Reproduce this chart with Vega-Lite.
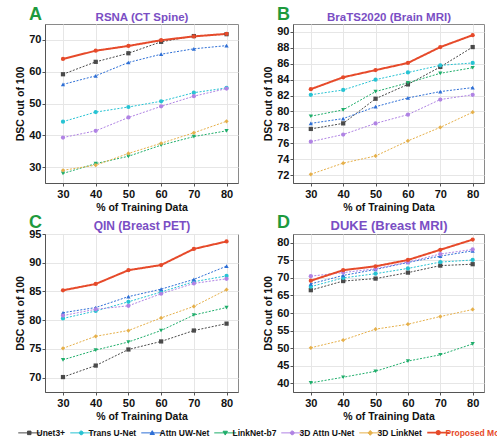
{
"$schema":"https://vega.github.io/schema/vega-lite/v6.json",
"padding":{"left":15,"top":5,"right":0,"bottom":0},
"background":"white",
"data":{"values":[
{"p":"A","m":"Unet3+","x":30,"y":59.2},{"p":"A","m":"Unet3+","x":40,"y":63.1},{"p":"A","m":"Unet3+","x":50,"y":65.8},{"p":"A","m":"Unet3+","x":60,"y":69.4},{"p":"A","m":"Unet3+","x":70,"y":71.2},{"p":"A","m":"Unet3+","x":80,"y":71.8},
{"p":"A","m":"Trans U-Net","x":30,"y":44.3},{"p":"A","m":"Trans U-Net","x":40,"y":47.3},{"p":"A","m":"Trans U-Net","x":50,"y":48.9},{"p":"A","m":"Trans U-Net","x":60,"y":50.7},{"p":"A","m":"Trans U-Net","x":70,"y":53.4},{"p":"A","m":"Trans U-Net","x":80,"y":54.9},
{"p":"A","m":"Attn UW-Net","x":30,"y":56},{"p":"A","m":"Attn UW-Net","x":40,"y":58.7},{"p":"A","m":"Attn UW-Net","x":50,"y":62.9},{"p":"A","m":"Attn UW-Net","x":60,"y":65.5},{"p":"A","m":"Attn UW-Net","x":70,"y":67.2},{"p":"A","m":"Attn UW-Net","x":80,"y":68.2},
{"p":"A","m":"LinkNet-b7","x":30,"y":28},{"p":"A","m":"LinkNet-b7","x":40,"y":31.1},{"p":"A","m":"LinkNet-b7","x":50,"y":33.4},{"p":"A","m":"LinkNet-b7","x":60,"y":36.9},{"p":"A","m":"LinkNet-b7","x":70,"y":39.6},{"p":"A","m":"LinkNet-b7","x":80,"y":41.4},
{"p":"A","m":"3D Attn U-Net","x":30,"y":39.3},{"p":"A","m":"3D Attn U-Net","x":40,"y":41.4},{"p":"A","m":"3D Attn U-Net","x":50,"y":45.6},{"p":"A","m":"3D Attn U-Net","x":60,"y":49.1},{"p":"A","m":"3D Attn U-Net","x":70,"y":52.3},{"p":"A","m":"3D Attn U-Net","x":80,"y":54.7},
{"p":"A","m":"3D LinkNet","x":30,"y":29},{"p":"A","m":"3D LinkNet","x":40,"y":30.6},{"p":"A","m":"3D LinkNet","x":50,"y":34.3},{"p":"A","m":"3D LinkNet","x":60,"y":37.5},{"p":"A","m":"3D LinkNet","x":70,"y":40.8},{"p":"A","m":"3D LinkNet","x":80,"y":44.4},
{"p":"A","m":"Proposed Model","x":30,"y":64},{"p":"A","m":"Proposed Model","x":40,"y":66.6},{"p":"A","m":"Proposed Model","x":50,"y":68.1},{"p":"A","m":"Proposed Model","x":60,"y":69.9},{"p":"A","m":"Proposed Model","x":70,"y":71.1},{"p":"A","m":"Proposed Model","x":80,"y":71.9},
{"p":"B","m":"Unet3+","x":30,"y":77.8},{"p":"B","m":"Unet3+","x":40,"y":78.5},{"p":"B","m":"Unet3+","x":50,"y":81.6},{"p":"B","m":"Unet3+","x":60,"y":83.4},{"p":"B","m":"Unet3+","x":70,"y":85.6},{"p":"B","m":"Unet3+","x":80,"y":88.1},
{"p":"B","m":"Trans U-Net","x":30,"y":82.1},{"p":"B","m":"Trans U-Net","x":40,"y":82.7},{"p":"B","m":"Trans U-Net","x":50,"y":84},{"p":"B","m":"Trans U-Net","x":60,"y":84.9},{"p":"B","m":"Trans U-Net","x":70,"y":85.8},{"p":"B","m":"Trans U-Net","x":80,"y":86.1},
{"p":"B","m":"Attn UW-Net","x":30,"y":78.5},{"p":"B","m":"Attn UW-Net","x":40,"y":79.1},{"p":"B","m":"Attn UW-Net","x":50,"y":80.6},{"p":"B","m":"Attn UW-Net","x":60,"y":81.7},{"p":"B","m":"Attn UW-Net","x":70,"y":82.5},{"p":"B","m":"Attn UW-Net","x":80,"y":83},
{"p":"B","m":"LinkNet-b7","x":30,"y":79.4},{"p":"B","m":"LinkNet-b7","x":40,"y":80.2},{"p":"B","m":"LinkNet-b7","x":50,"y":82.5},{"p":"B","m":"LinkNet-b7","x":60,"y":83.6},{"p":"B","m":"LinkNet-b7","x":70,"y":84.8},{"p":"B","m":"LinkNet-b7","x":80,"y":85.5},
{"p":"B","m":"3D Attn U-Net","x":30,"y":76.2},{"p":"B","m":"3D Attn U-Net","x":40,"y":77.1},{"p":"B","m":"3D Attn U-Net","x":50,"y":78.5},{"p":"B","m":"3D Attn U-Net","x":60,"y":79.6},{"p":"B","m":"3D Attn U-Net","x":70,"y":81.5},{"p":"B","m":"3D Attn U-Net","x":80,"y":82.1},
{"p":"B","m":"3D LinkNet","x":30,"y":72.1},{"p":"B","m":"3D LinkNet","x":40,"y":73.5},{"p":"B","m":"3D LinkNet","x":50,"y":74.4},{"p":"B","m":"3D LinkNet","x":60,"y":76.3},{"p":"B","m":"3D LinkNet","x":70,"y":78},{"p":"B","m":"3D LinkNet","x":80,"y":79.9},
{"p":"B","m":"Proposed Model","x":30,"y":82.8},{"p":"B","m":"Proposed Model","x":40,"y":84.3},{"p":"B","m":"Proposed Model","x":50,"y":85.2},{"p":"B","m":"Proposed Model","x":60,"y":86.1},{"p":"B","m":"Proposed Model","x":70,"y":88.1},{"p":"B","m":"Proposed Model","x":80,"y":89.6},
{"p":"C","m":"Unet3+","x":30,"y":70.1},{"p":"C","m":"Unet3+","x":40,"y":72.1},{"p":"C","m":"Unet3+","x":50,"y":74.9},{"p":"C","m":"Unet3+","x":60,"y":76.3},{"p":"C","m":"Unet3+","x":70,"y":78.2},{"p":"C","m":"Unet3+","x":80,"y":79.4},
{"p":"C","m":"Trans U-Net","x":30,"y":80.3},{"p":"C","m":"Trans U-Net","x":40,"y":81.6},{"p":"C","m":"Trans U-Net","x":50,"y":83.2},{"p":"C","m":"Trans U-Net","x":60,"y":84.9},{"p":"C","m":"Trans U-Net","x":70,"y":86.7},{"p":"C","m":"Trans U-Net","x":80,"y":87.7},
{"p":"C","m":"Attn UW-Net","x":30,"y":81.3},{"p":"C","m":"Attn UW-Net","x":40,"y":82.2},{"p":"C","m":"Attn UW-Net","x":50,"y":84.1},{"p":"C","m":"Attn UW-Net","x":60,"y":85.4},{"p":"C","m":"Attn UW-Net","x":70,"y":87.1},{"p":"C","m":"Attn UW-Net","x":80,"y":89.4},
{"p":"C","m":"LinkNet-b7","x":30,"y":73.1},{"p":"C","m":"LinkNet-b7","x":40,"y":74.8},{"p":"C","m":"LinkNet-b7","x":50,"y":76.2},{"p":"C","m":"LinkNet-b7","x":60,"y":78.2},{"p":"C","m":"LinkNet-b7","x":70,"y":80.9},{"p":"C","m":"LinkNet-b7","x":80,"y":82.2},
{"p":"C","m":"3D Attn U-Net","x":30,"y":80.8},{"p":"C","m":"3D Attn U-Net","x":40,"y":81.9},{"p":"C","m":"3D Attn U-Net","x":50,"y":82.5},{"p":"C","m":"3D Attn U-Net","x":60,"y":84.6},{"p":"C","m":"3D Attn U-Net","x":70,"y":86.4},{"p":"C","m":"3D Attn U-Net","x":80,"y":87.2},
{"p":"C","m":"3D LinkNet","x":30,"y":75.1},{"p":"C","m":"3D LinkNet","x":40,"y":77.2},{"p":"C","m":"3D LinkNet","x":50,"y":78.2},{"p":"C","m":"3D LinkNet","x":60,"y":80.4},{"p":"C","m":"3D LinkNet","x":70,"y":82.4},{"p":"C","m":"3D LinkNet","x":80,"y":85.3},
{"p":"C","m":"Proposed Model","x":30,"y":85.2},{"p":"C","m":"Proposed Model","x":40,"y":86.3},{"p":"C","m":"Proposed Model","x":50,"y":88.7},{"p":"C","m":"Proposed Model","x":60,"y":89.6},{"p":"C","m":"Proposed Model","x":70,"y":92.4},{"p":"C","m":"Proposed Model","x":80,"y":93.7},
{"p":"D","m":"Unet3+","x":30,"y":66.5},{"p":"D","m":"Unet3+","x":40,"y":69.1},{"p":"D","m":"Unet3+","x":50,"y":69.8},{"p":"D","m":"Unet3+","x":60,"y":71.5},{"p":"D","m":"Unet3+","x":70,"y":73.5},{"p":"D","m":"Unet3+","x":80,"y":73.9},
{"p":"D","m":"Trans U-Net","x":30,"y":67.5},{"p":"D","m":"Trans U-Net","x":40,"y":70},{"p":"D","m":"Trans U-Net","x":50,"y":71.2},{"p":"D","m":"Trans U-Net","x":60,"y":72.7},{"p":"D","m":"Trans U-Net","x":70,"y":74.5},{"p":"D","m":"Trans U-Net","x":80,"y":75.1},
{"p":"D","m":"Attn UW-Net","x":30,"y":68.3},{"p":"D","m":"Attn UW-Net","x":40,"y":70.7},{"p":"D","m":"Attn UW-Net","x":50,"y":72.4},{"p":"D","m":"Attn UW-Net","x":60,"y":74.4},{"p":"D","m":"Attn UW-Net","x":70,"y":76.2},{"p":"D","m":"Attn UW-Net","x":80,"y":77.7},
{"p":"D","m":"LinkNet-b7","x":30,"y":40.1},{"p":"D","m":"LinkNet-b7","x":40,"y":41.7},{"p":"D","m":"LinkNet-b7","x":50,"y":43.4},{"p":"D","m":"LinkNet-b7","x":60,"y":46.3},{"p":"D","m":"LinkNet-b7","x":70,"y":48.1},{"p":"D","m":"LinkNet-b7","x":80,"y":51.2},
{"p":"D","m":"3D Attn U-Net","x":30,"y":70.5},{"p":"D","m":"3D Attn U-Net","x":40,"y":71.5},{"p":"D","m":"3D Attn U-Net","x":50,"y":72.6},{"p":"D","m":"3D Attn U-Net","x":60,"y":74.5},{"p":"D","m":"3D Attn U-Net","x":70,"y":76.8},{"p":"D","m":"3D Attn U-Net","x":80,"y":78.1},
{"p":"D","m":"3D LinkNet","x":30,"y":50.1},{"p":"D","m":"3D LinkNet","x":40,"y":52.3},{"p":"D","m":"3D LinkNet","x":50,"y":55.4},{"p":"D","m":"3D LinkNet","x":60,"y":56.8},{"p":"D","m":"3D LinkNet","x":70,"y":59},{"p":"D","m":"3D LinkNet","x":80,"y":61},
{"p":"D","m":"Proposed Model","x":30,"y":69.2},{"p":"D","m":"Proposed Model","x":40,"y":72.2},{"p":"D","m":"Proposed Model","x":50,"y":73.3},{"p":"D","m":"Proposed Model","x":60,"y":75.1},{"p":"D","m":"Proposed Model","x":70,"y":78},{"p":"D","m":"Proposed Model","x":80,"y":80.9}
]},
"columns":2,
"spacing":{"row":0,"column":24},
"resolve":{"scale":{"y":"independent"}},
"concat":[
{"width":193,"height":159,
 "title":{"text":"A","anchor":"start","frame":"group","dx":-16,"offset":-13,"fontSize":18,"color":"#1d9a3d","fontWeight":"bold"},
 "transform":[{"filter":"datum.p==='A'"}],
 "resolve":{"axis":{"x":"independent"}},
 "layer":[
  {"mark":{"type":"line","clip":true},
   "encoding":{
    "x":{"field":"x","type":"quantitative","scale":{"domain":[24.5,83.5],"nice":false,"zero":false},"axis":{"values":[30,40,50,60,70,80],"tickCount":20,"title":"% of Training Data"}},
    "y":{"field":"y","type":"quantitative","scale":{"domain":[25,75],"nice":false,"zero":false},"axis":{"values":[30,40,50,60,70],"tickCount":20,"title":"DSC out of 100"}},
    "color":{"field":"m","type":"nominal","scale":{"domain":["Unet3+","Trans U-Net","Attn UW-Net","LinkNet-b7","3D Attn U-Net","3D LinkNet","Proposed Model"],"range":["#4a4a4a","#27c3d3","#2e6fd6","#1fae6b","#b083e4","#e6b04a","#e64a2a"]},
     "legend":{"title":null,"orient":"none","legendX":-20,"legendY":404,"direction":"horizontal","columns":7,"labelFontSize":8.5,"labelFontWeight":"bold","labelOffset":3,"columnPadding":2,"symbolSize":484,
      "labelColor":{"expr":"datum.value==='Proposed Model'?'#e64a2a':'#111111'"},
      "symbolType":{"expr":"datum.value==='Unet3+'?'M-1,0H1M-0.16,-0.16H0.16V0.16H-0.16Z':datum.value==='Attn UW-Net'?'M-1,0H1M0,-0.2L0.2,0.15H-0.2Z':datum.value==='LinkNet-b7'?'M-1,0H1M0,0.2L0.2,-0.15H-0.2Z':datum.value==='3D LinkNet'?'M-1,0H1M0,-0.22L0.2,0L0,0.22L-0.2,0Z':'M-1,0H1M-0.17,0A0.17,0.17 0 1,0 0.17,0A0.17,0.17 0 1,0 -0.17,0Z'"},
      "symbolFillColor":{"expr":"scale('color', datum.value)"},
      "symbolStrokeWidth":{"expr":"datum.value==='Proposed Model'?1.6:1"}}},
    "strokeWidth":{"condition":{"test":"datum.m==='Proposed Model'","value":2},"value":1},
    "strokeDash":{"condition":{"test":"datum.m==='Proposed Model'","value":[1,0]},"value":[2,1.5]}
   }},
  {"mark":{"type":"point","filled":true,"opacity":1,"size":18},
   "encoding":{
    "x":{"field":"x","type":"quantitative","scale":{"domain":[24.5,83.5],"nice":false,"zero":false},"axis":{"orient":"top","labels":false,"ticks":false,"domain":false,"grid":false,"title":"RSNA (CT Spine)","titleColor":"#7a4ec4","titleFontSize":11.5,"titlePadding":2}},
    "y":{"field":"y","type":"quantitative","scale":{"domain":[25,75],"nice":false,"zero":false}},
    "fill":{"field":"m","type":"nominal","legend":null,"scale":{"domain":["Unet3+","Trans U-Net","Attn UW-Net","LinkNet-b7","3D Attn U-Net","3D LinkNet","Proposed Model"],"range":["#4a4a4a","#27c3d3","#2e6fd6","#1fae6b","#b083e4","#e6b04a","#e64a2a"]}},
    "shape":{"condition":[{"test":"datum.m==='Unet3+'","value":"square"},{"test":"datum.m==='Attn UW-Net'","value":"triangle-up"},{"test":"datum.m==='LinkNet-b7'","value":"triangle-down"},{"test":"datum.m==='3D LinkNet'","value":"diamond"}],"value":"circle"}
   }}
 ]},
{"width":191,"height":159,
 "title":{"text":"B","anchor":"start","frame":"group","dx":-16,"offset":-13,"fontSize":18,"color":"#1d9a3d","fontWeight":"bold"},
 "transform":[{"filter":"datum.p==='B'"}],
 "resolve":{"axis":{"x":"independent"}},
 "layer":[
  {"mark":{"type":"line","clip":true},
   "encoding":{
    "x":{"field":"x","type":"quantitative","scale":{"domain":[24.5,83.5],"nice":false,"zero":false},"axis":{"values":[30,40,50,60,70,80],"tickCount":20,"title":"% of Training Data"}},
    "y":{"field":"y","type":"quantitative","scale":{"domain":[71,91],"nice":false,"zero":false},"axis":{"values":[72,74,76,78,80,82,84,86,88,90],"tickCount":20,"title":"DSC out of 100"}},
    "color":{"field":"m","type":"nominal"},
    "strokeWidth":{"condition":{"test":"datum.m==='Proposed Model'","value":2},"value":1},
    "strokeDash":{"condition":{"test":"datum.m==='Proposed Model'","value":[1,0]},"value":[2,1.5]}
   }},
  {"mark":{"type":"point","filled":true,"opacity":1,"size":18},
   "encoding":{
    "x":{"field":"x","type":"quantitative","scale":{"domain":[24.5,83.5],"nice":false,"zero":false},"axis":{"orient":"top","labels":false,"ticks":false,"domain":false,"grid":false,"title":"BraTS2020 (Brain MRI)","titleColor":"#7a4ec4","titleFontSize":11.5,"titlePadding":2}},
    "y":{"field":"y","type":"quantitative","scale":{"domain":[71,91],"nice":false,"zero":false}},
    "fill":{"field":"m","type":"nominal","legend":null},
    "shape":{"condition":[{"test":"datum.m==='Unet3+'","value":"square"},{"test":"datum.m==='Attn UW-Net'","value":"triangle-up"},{"test":"datum.m==='LinkNet-b7'","value":"triangle-down"},{"test":"datum.m==='3D LinkNet'","value":"diamond"}],"value":"circle"}
   }}
 ]},
{"width":193,"height":158,
 "title":{"text":"C","anchor":"start","frame":"group","dx":-16,"offset":-13,"fontSize":18,"color":"#1d9a3d","fontWeight":"bold"},
 "transform":[{"filter":"datum.p==='C'"}],
 "resolve":{"axis":{"x":"independent"}},
 "layer":[
  {"mark":{"type":"line","clip":true},
   "encoding":{
    "x":{"field":"x","type":"quantitative","scale":{"domain":[24.5,83.5],"nice":false,"zero":false},"axis":{"values":[30,40,50,60,70,80],"tickCount":20,"title":"% of Training Data"}},
    "y":{"field":"y","type":"quantitative","scale":{"domain":[67.5,95],"nice":false,"zero":false},"axis":{"values":[70,75,80,85,90,95],"tickCount":20,"title":"DSC out of 100"}},
    "color":{"field":"m","type":"nominal"},
    "strokeWidth":{"condition":{"test":"datum.m==='Proposed Model'","value":2},"value":1},
    "strokeDash":{"condition":{"test":"datum.m==='Proposed Model'","value":[1,0]},"value":[2,1.5]}
   }},
  {"mark":{"type":"point","filled":true,"opacity":1,"size":18},
   "encoding":{
    "x":{"field":"x","type":"quantitative","scale":{"domain":[24.5,83.5],"nice":false,"zero":false},"axis":{"orient":"top","labels":false,"ticks":false,"domain":false,"grid":false,"title":"QIN (Breast PET)","titleColor":"#7a4ec4","titleFontSize":12,"titlePadding":2}},
    "y":{"field":"y","type":"quantitative","scale":{"domain":[67.5,95],"nice":false,"zero":false}},
    "fill":{"field":"m","type":"nominal","legend":null},
    "shape":{"condition":[{"test":"datum.m==='Unet3+'","value":"square"},{"test":"datum.m==='Attn UW-Net'","value":"triangle-up"},{"test":"datum.m==='LinkNet-b7'","value":"triangle-down"},{"test":"datum.m==='3D LinkNet'","value":"diamond"}],"value":"circle"}
   }}
 ]},
{"width":191,"height":158,
 "title":{"text":"D","anchor":"start","frame":"group","dx":-16,"offset":-13,"fontSize":18,"color":"#1d9a3d","fontWeight":"bold"},
 "transform":[{"filter":"datum.p==='D'"}],
 "resolve":{"axis":{"x":"independent"}},
 "layer":[
  {"mark":{"type":"line","clip":true},
   "encoding":{
    "x":{"field":"x","type":"quantitative","scale":{"domain":[24.5,83.5],"nice":false,"zero":false},"axis":{"values":[30,40,50,60,70,80],"tickCount":20,"title":"% of Training Data"}},
    "y":{"field":"y","type":"quantitative","scale":{"domain":[37.5,82.5],"nice":false,"zero":false},"axis":{"values":[40,45,50,55,60,65,70,75,80],"tickCount":20,"title":"DSC out of 100"}},
    "color":{"field":"m","type":"nominal"},
    "strokeWidth":{"condition":{"test":"datum.m==='Proposed Model'","value":2},"value":1},
    "strokeDash":{"condition":{"test":"datum.m==='Proposed Model'","value":[1,0]},"value":[2,1.5]}
   }},
  {"mark":{"type":"point","filled":true,"opacity":1,"size":18},
   "encoding":{
    "x":{"field":"x","type":"quantitative","scale":{"domain":[24.5,83.5],"nice":false,"zero":false},"axis":{"orient":"top","labels":false,"ticks":false,"domain":false,"grid":false,"title":"DUKE (Breast MRI)","titleColor":"#7a4ec4","titleFontSize":13,"titlePadding":2}},
    "y":{"field":"y","type":"quantitative","scale":{"domain":[37.5,82.5],"nice":false,"zero":false}},
    "fill":{"field":"m","type":"nominal","legend":null},
    "shape":{"condition":[{"test":"datum.m==='Unet3+'","value":"square"},{"test":"datum.m==='Attn UW-Net'","value":"triangle-up"},{"test":"datum.m==='LinkNet-b7'","value":"triangle-down"},{"test":"datum.m==='3D LinkNet'","value":"diamond"}],"value":"circle"}
   }}
 ]}
],
"config":{
 "font":"Liberation Sans",
 "view":{"stroke":"#8a8a8a","strokeWidth":1},
 "axis":{"labelFontWeight":"bold","labelFontSize":11,"labelColor":"#111","titleFontWeight":"bold","titleFontSize":10.5,"titleColor":"#111","gridColor":"#e6e6e6","domainColor":"#555","tickColor":"#555","tickSize":3,"labelPadding":1,"titlePadding":3,"labelFlush":false,"labelOverlap":false},
 "axisX":{"labelPadding":2,"titlePadding":3},
 "title":{"font":"Liberation Sans"}
}
}
